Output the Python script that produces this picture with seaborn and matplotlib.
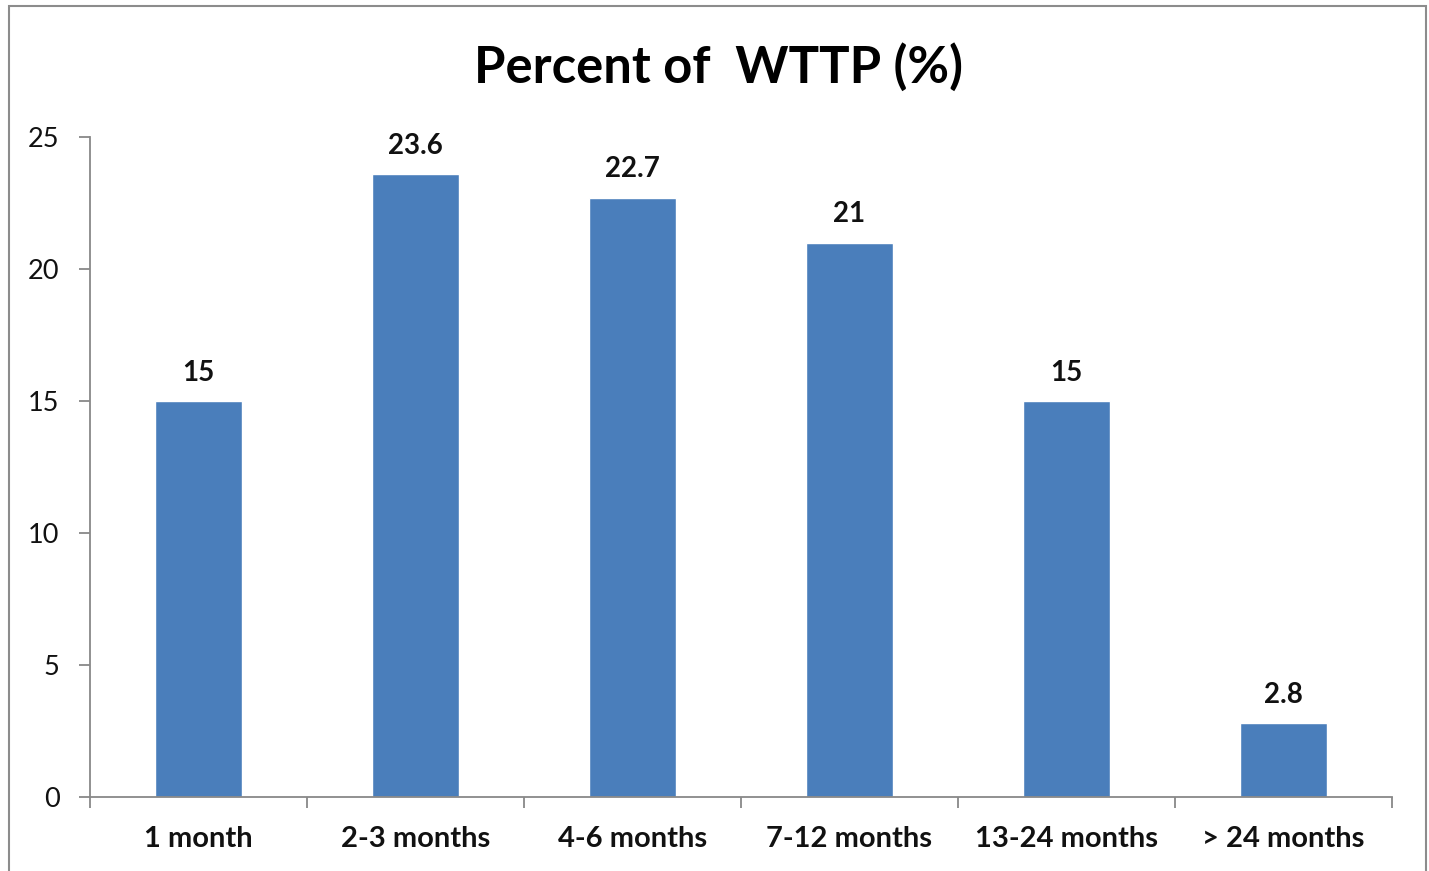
import matplotlib
matplotlib.use("Agg")
import matplotlib.pyplot as plt
import seaborn as sns
import pandas as pd
import numpy as np
from matplotlib.patches import Rectangle
from matplotlib.ticker import FixedLocator

categories = ["1 month", "2-3 months", "4-6 months", "7-12 months", "13-24 months", "> 24 months"]
values = [15, 23.6, 22.7, 21, 15, 2.8]
value_labels = ["15", "23.6", "22.7", "21", "15", "2.8"]
yticks = [0, 5, 10, 15, 20, 25]

sns.set_theme(style="white")
plt.rcParams['font.family'] = ['Lato', 'DejaVu Sans']

df = pd.DataFrame({"cat": categories, "val": values})

fig = plt.figure(figsize=(14.29, 8.71), dpi=100)
ax = fig.add_axes([90/1429, 74/871, (1392-90)/1429, (797-137)/871])

sns.barplot(data=df, x="cat", y="val", color="#4A7EBB", width=0.4, saturation=1, ax=ax)

ax.set_xlim(-0.5, len(categories) - 0.5)
ax.set_ylim(0, 25)
ax.set_yticks(yticks)
ax.set_yticklabels([str(t) for t in yticks], fontsize=19.5, color="#111111")
ax.set_xlabel("")
ax.set_ylabel("")
ax.set_xticks(range(len(categories)))
ax.set_xticklabels(categories, fontsize=21, fontweight="bold", color="#111111")
ax.xaxis.set_minor_locator(FixedLocator(np.arange(-0.5, len(categories), 1.0)))
ax.tick_params(axis="x", which="major", length=0, pad=21)
ax.tick_params(axis="x", which="minor", length=8, width=1.3, color="#888888", direction="out", bottom=True)
ax.tick_params(axis="y", which="major", length=8, width=1.3, color="#888888", direction="out", left=True, pad=14)

for s in ["top", "right"]:
    ax.spines[s].set_visible(False)
for s in ["left", "bottom"]:
    ax.spines[s].set_color("#888888")
    ax.spines[s].set_linewidth(1.3)

for i, (v, lab) in enumerate(zip(values, value_labels)):
    ax.annotate(lab, (i, v), xytext=(0, 11), textcoords="offset points",
                ha="center", va="bottom", fontsize=20, fontweight="bold", color="#111111")

fig.text(718/1429, 1 - 67/871, "Percent of  WTTP (%)", ha="center", va="center",
         fontsize=36.5, fontweight="bold", color="#000000")

fig.patches.append(Rectangle((9/1429, -0.05), (1426-9)/1429, 1 - 6/871 + 0.05,
                             transform=fig.transFigure, fill=False,
                             edgecolor="#8c8c8c", linewidth=1.5))

fig.savefig("out.png", dpi=100, facecolor="white")
